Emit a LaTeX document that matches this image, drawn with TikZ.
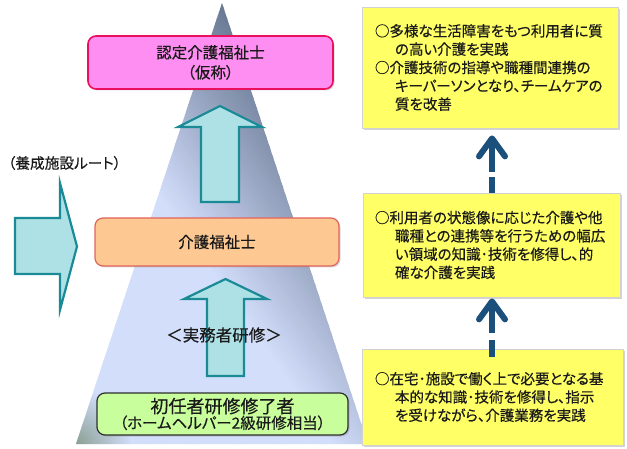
\documentclass[tikz,border=0pt]{standalone}
\usepackage{fontspec}
\setmainfont{Noto Sans CJK JP}[RawFeature={+palt}, RawFeature={embolden=0.4}]
\usetikzlibrary{arrows.meta,shadows,fadings}
\definecolor{triL}{HTML}{D3DEFB}
\definecolor{triD}{HTML}{5D6D88}
\definecolor{cornergreen}{HTML}{7E9582}
\definecolor{arrfill}{HTML}{AEE1E6}
\definecolor{arrline}{HTML}{1A8A96}
\definecolor{pinkfill}{HTML}{FF8EF2}
\definecolor{pinkline}{HTML}{EC0F5E}
\definecolor{orfill}{HTML}{FDC892}
\definecolor{orline}{HTML}{E0645A}
\definecolor{grfill}{HTML}{C8FF9C}
\definecolor{grline}{HTML}{2E2E2E}
\definecolor{yfill}{HTML}{FFFF66}
\definecolor{yline}{HTML}{D2D2D2}
\definecolor{navyarr}{HTML}{1B4F7C}
\definecolor{txt}{HTML}{1A1A1A}
\tikzfading[name=fadeblc, inner color=transparent!15, outer color=transparent!100]
\newcommand\yind{\hspace*{20pt}}
\begin{document}
\begin{tikzpicture}[x=1pt,y=-1pt,
  blockarrow/.style={draw=arrline, fill=arrfill, line width=2.2pt, line join=miter},
  levelbox/.style={rectangle, rounded corners=8pt, line width=1.6pt, align=center, text=txt,
    drop shadow={opacity=0.3, shadow xshift=1.5pt, shadow yshift=-1.5pt}},
  ybox/.style={rectangle, draw=yline, fill=yfill, line width=0.8pt, align=left, text=txt,
    inner ysep=0pt, font=\fontsize{14.5}{18.3}\selectfont,
    drop shadow={opacity=0.35, shadow xshift=1.5pt, shadow yshift=-2pt}},
  dconn/.style={draw=navyarr, line width=6pt, line cap=butt,
    -{Straight Barb[length=18pt,width=26pt,round]}}
]
\useasboundingbox (0,0) rectangle (627,449);
% pyramid: banded gradient, darker towards the upper right
\begin{scope}
  \clip (222,3) -- (76,444) -- (368,444) -- cycle;
  \foreach \p in {-200,-197,...,199} {
    \pgfmathsetmacro\dk{max(0,min(100,(\p-16)/1.8))}
    \pgfmathsetmacro\qa{(\p)*0.819}
    \pgfmathsetmacro\qb{0-(\p)*0.574}
    \fill[triD!\dk!triL] (\qa,\qb) -- (\qa+3.28,\qb-2.3) -- (\qa+405.1,\qb+571) -- (\qa+401.8,\qb+573.3) -- cycle;
  }
  \fill[cornergreen, path fading=fadeblc] (76,444) circle (55);
\end{scope}
% block arrows
\draw[blockarrow] (201,202) -- (201,127) -- (178,127) -- (220,106) -- (262,127) -- (239,127) -- (239,202) -- cycle;
\draw[blockarrow] (207,376) -- (207,299) -- (184,299) -- (225.5,279) -- (267,299) -- (244,299) -- (244,376) -- cycle;
\draw[blockarrow] (15,218) -- (60,218) -- (60,183) -- (77,246.5) -- (60,310) -- (60,274) -- (15,274) -- cycle;
% level boxes
\node[levelbox, draw=pinkline, fill=pinkfill, minimum width=245pt, minimum height=53pt,
  font=\fontsize{15.5}{20}\selectfont] (pink) at (210.5,62.5) {認定介護福祉士\\（仮称）};
\node[levelbox, draw=orline, fill=orfill, line width=1.2pt, minimum width=244pt, minimum height=48pt,
  font=\fontsize{15.5}{20}\selectfont] (orange) at (217,242) {介護福祉士};
\node[levelbox, draw=grline, fill=grfill, line width=1.2pt, minimum width=251pt, minimum height=42pt,
  inner ysep=0pt] (green) at (222.5,414)
  {{\fontsize{18}{20}\selectfont 初任者研修修了者}\\[0pt]{\fontsize{15.5}{18}\selectfont （ホームヘルパー2級研修相当）}};
\node[text=txt, font=\fontsize{16.5}{20}\selectfont] (jitsumu) at (224,335) {＜実務者研修＞};
\node[text=txt, font=\fontsize{14.7}{18}\selectfont, inner xsep=0pt] (route) at (64.5,163) {（養成施設ルート）};
% right boxes
\node[ybox, text width=230pt, inner xsep=13pt, minimum height=121pt] (b1) at (490,67.5)
  {○多様な生活障害をもつ利用者に質\\\yind の高い介護を実践\\○介護技術の指導や職種間連携の\\\yind キーパーソンとなり、チームケアの\\\yind 質を改善};
\node[ybox, text width=233pt, inner xsep=12pt, minimum height=104pt] (b2) at (491.5,245)
  {○利用者の状態像に応じた介護や他\\\yind 職種との連携等を行うための幅広\\\yind い領域の知識･技術を修得し、的\\\yind 確な介護を実践};
\node[ybox, text width=235pt, inner xsep=13pt, minimum height=96pt] (b3) at (492.5,397)
  {○在宅･施設で働く上で必要となる基\\\yind 本的な知識･技術を修得し、指示\\\yind を受けながら、介護業務を実践};
% dashed connectors
\coordinate (ax) at (492,0);
\coordinate (t1) at ([yshift=-7pt]b1.south);
\coordinate (s2) at ([yshift=-8pt]b3.north);
\coordinate (t2) at ([yshift=-1pt]b2.south);
\draw[dconn, dash pattern=on 16pt off 5pt on 80pt] (b2.north -| ax) -- (t1 -| ax);
\draw[dconn, dash pattern=on 17pt off 7pt on 80pt] (s2 -| ax) -- (t2 -| ax);
\end{tikzpicture}
\end{document}
